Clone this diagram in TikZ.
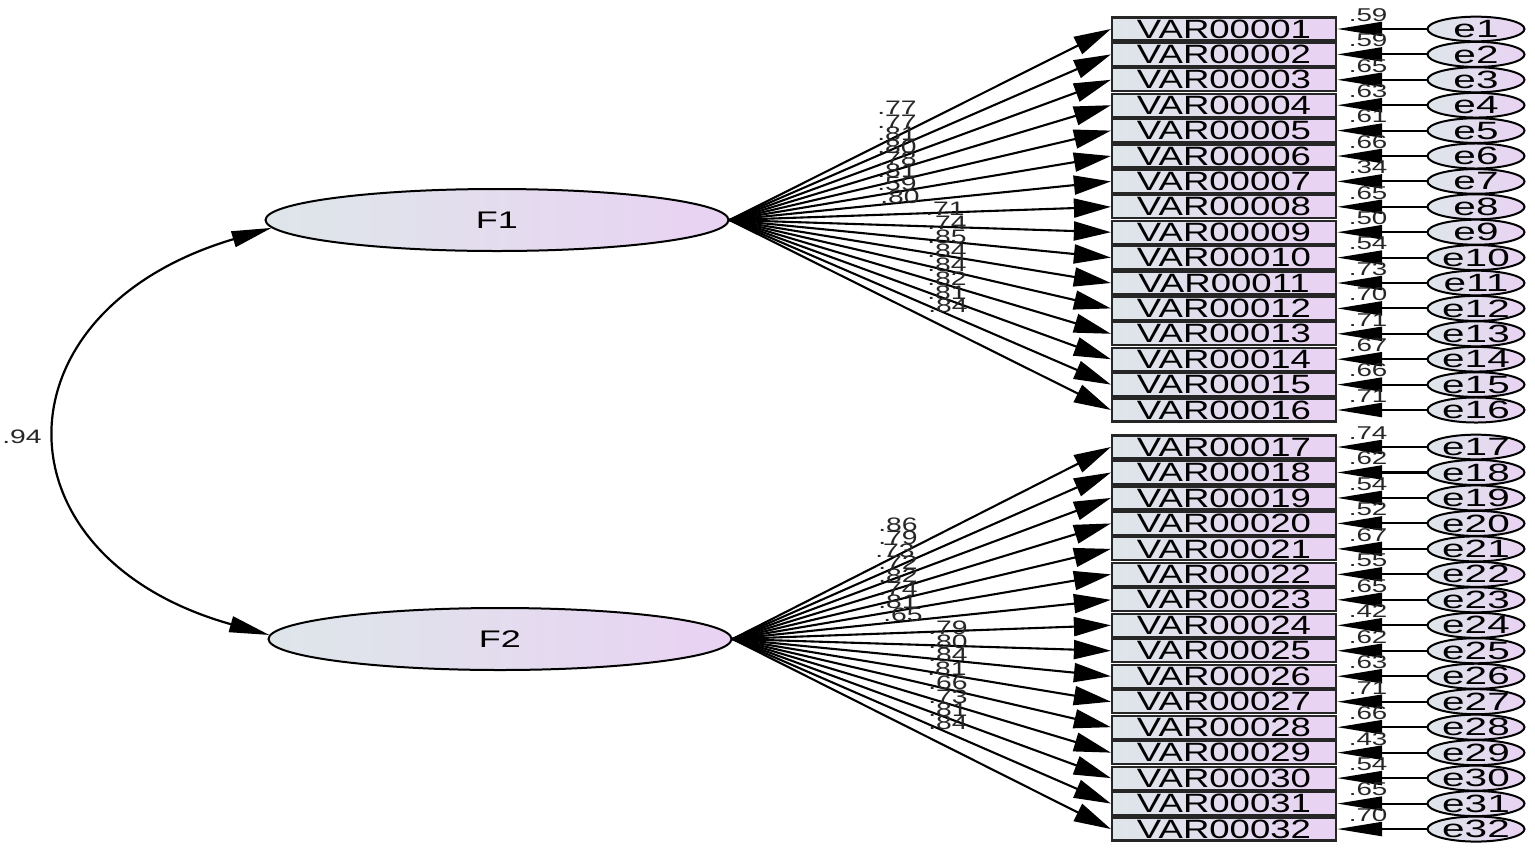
\documentclass[tikz,border=0pt]{standalone}
\usepackage{fontspec}
\setmainfont{Liberation Sans}
\usepackage{graphicx}
\usetikzlibrary{arrows.meta,shapes.geometric}
\definecolor{shL}{RGB}{222,230,234}
\definecolor{shR}{RGB}{233,210,243}
\newcommand{\hs}[2]{\scalebox{#1}[1]{#2}}
\tikzset{
 obsbox/.style={draw=black!85, line width=2.2pt, rectangle, minimum width=224pt, minimum height=23pt, inner sep=0pt, left color=shL, right color=shR, font=\fontsize{26.5}{26.5}\selectfont},
 latent/.style={draw=black, ellipse, line width=2pt, minimum width=463pt, minimum height=62pt, inner sep=0pt, left color=shL, right color=shR, font=\fontsize{24}{24}\selectfont},
 errnode/.style={draw=black, ellipse, line width=2pt, minimum width=97pt, minimum height=20pt, inner sep=0pt, left color=shL, right color=shR, font=\fontsize{25}{25}\selectfont},
 lbl/.style={font=\fontsize{19.5}{19.5}\selectfont, inner sep=0pt, text=black!85},
 elbl/.style={font=\fontsize{18.5}{18.5}\selectfont, inner sep=0pt, text=black!85},
 load/.style={line width=2.1pt, -{Triangle[length=37pt,width=19pt]}},
 errarr/.style={line width=2.1pt, -{Triangle[length=45pt,width=14pt]}},
 cov/.style={line width=2.2pt, {Triangle[length=40pt,width=16pt]}-{Triangle[length=40pt,width=16pt]}},
}
\begin{document}
\begin{tikzpicture}[x=1pt,y=-1pt]
\useasboundingbox[fill=white] (0,0) rectangle (1535,847);
\node[latent] (F1) at (497,220) {\hs{1.5}{F1}};
\node[latent] (F2) at (500,639) {\hs{1.5}{F2}};
\foreach \i in {1,...,32}{
  \pgfmathsetmacro\yy{\i<17 ? 29+(\i-1)*25.4 : 447+(\i-17)*25.47}
  \node[obsbox] (v\i) at (1224,\yy) {\hs{1.38}{VAR000\ifnum\i<10 0\fi\i}};
  \node[errnode] (e\i) at (1476,\yy) {\hs{1.62}{e\i}};
  \draw[errarr] (e\i.west) -- (v\i.east);
}
\foreach \i in {1,...,16} \draw[load] (F1.east) -- (v\i.west);
\foreach \i in {17,...,32} \draw[load] (F2.east) -- (v\i.west);
\foreach \i/\v in {1/.59,2/.59,3/.65,4/.63,5/.61,6/.66,7/.34,8/.65,9/.50,10/.54,11/.73,12/.70,13/.71,14/.67,15/.66,16/.71,17/.74,18/.62,19/.54,20/.52,21/.67,22/.55,23/.65,24/.42,25/.62,26/.63,27/.71,28/.66,29/.43,30/.54,31/.65,32/.70}
  \node[elbl] (r\i) at ([shift={(31,-14)}]v\i.east) {\hs{1.5}{\v}};
\foreach \i/\x/\y/\v in {1/897/108/.77,2/897/122/.77,3/897/134/.81,4/897/147/.80,5/897/159/.78,6/897/171/.81,7/897/184/.59,8/900/197/.80,9/945/209/.71,10/947/223/.74,11/947/237/.85,12/947/251/.84,13/947/265/.84,14/947/279/.82,15/947/293/.81,16/948/306/.84,17/898/525/.86,18/898/538/.79,19/895/551/.73,20/898/563/.72,21/898/576/.82,22/898/589/.74,23/898/602/.81,24/903/615/.65,25/948/628/.79,26/948/642/.80,27/948/655/.84,28/947/669/.81,29/948/683/.66,30/948/697/.73,31/948/710/.81,32/948/723/.84}
  \node[lbl] (l\i) at (\x,\y) {\hs{1.45}{\v}};
\draw[cov] (F1.182) .. controls (-9,311) and (-9,557) .. (F2.179);
\node[lbl] (c94) at (22,437) {\hs{1.45}{.94}};
\end{tikzpicture}
\end{document}
